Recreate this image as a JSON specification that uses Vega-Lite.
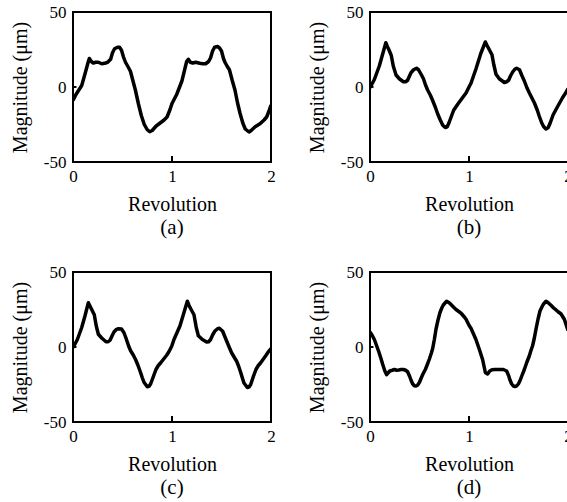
{
  "$schema": "https://vega.github.io/schema/vega-lite/v6.json",
  "background": "white",
  "padding": {"left": 9, "top": 2, "right": 0, "bottom": 0},
  "bounds": "flush",
  "spacing": {"row": 110, "column": 99},
  "columns": 2,
  "datasets": {
    "ticks": [
      {"rev": 1, "rev2": 1, "mag": -50, "mag2": -46},
      {"rev": 0, "rev2": 0.035, "mag": 0, "mag2": 0}
    ],
    "curves": [
      {"p":"a","rev":0,"mag":-9},{"p":"a","rev":0.03,"mag":-5},{"p":"a","rev":0.088,"mag":1},{"p":"a","rev":0.12,"mag":8.5},{"p":"a","rev":0.155,"mag":17},{"p":"a","rev":0.165,"mag":19},{"p":"a","rev":0.185,"mag":17},{"p":"a","rev":0.205,"mag":16},{"p":"a","rev":0.23,"mag":16.5},{"p":"a","rev":0.256,"mag":16.5},{"p":"a","rev":0.29,"mag":15.5},{"p":"a","rev":0.32,"mag":15.8},{"p":"a","rev":0.35,"mag":16.5},{"p":"a","rev":0.38,"mag":18.5},{"p":"a","rev":0.4,"mag":23},{"p":"a","rev":0.42,"mag":25.5},{"p":"a","rev":0.45,"mag":26.5},{"p":"a","rev":0.47,"mag":26.5},{"p":"a","rev":0.49,"mag":24.5},{"p":"a","rev":0.51,"mag":20},{"p":"a","rev":0.53,"mag":16.5},{"p":"a","rev":0.56,"mag":13},{"p":"a","rev":0.58,"mag":10.5},{"p":"a","rev":0.61,"mag":3},{"p":"a","rev":0.63,"mag":-2},{"p":"a","rev":0.66,"mag":-11},{"p":"a","rev":0.69,"mag":-19},{"p":"a","rev":0.72,"mag":-25},{"p":"a","rev":0.75,"mag":-28.5},{"p":"a","rev":0.775,"mag":-29.8},{"p":"a","rev":0.8,"mag":-29},{"p":"a","rev":0.84,"mag":-26},{"p":"a","rev":0.88,"mag":-24},{"p":"a","rev":0.92,"mag":-22},{"p":"a","rev":0.95,"mag":-20},{"p":"a","rev":0.98,"mag":-15},{"p":"a","rev":1.0,"mag":-11},{"p":"a","rev":1.047,"mag":-5},{"p":"a","rev":1.1,"mag":4},{"p":"a","rev":1.148,"mag":17},{"p":"a","rev":1.165,"mag":18.5},{"p":"a","rev":1.185,"mag":16.5},{"p":"a","rev":1.21,"mag":16},{"p":"a","rev":1.24,"mag":16.5},{"p":"a","rev":1.28,"mag":15.8},{"p":"a","rev":1.31,"mag":15.5},{"p":"a","rev":1.34,"mag":15.5},{"p":"a","rev":1.37,"mag":17},{"p":"a","rev":1.39,"mag":19.5},{"p":"a","rev":1.41,"mag":24},{"p":"a","rev":1.43,"mag":26.5},{"p":"a","rev":1.46,"mag":27},{"p":"a","rev":1.48,"mag":26},{"p":"a","rev":1.5,"mag":24},{"p":"a","rev":1.52,"mag":19},{"p":"a","rev":1.535,"mag":16.5},{"p":"a","rev":1.56,"mag":13.5},{"p":"a","rev":1.58,"mag":11.5},{"p":"a","rev":1.61,"mag":4},{"p":"a","rev":1.636,"mag":-2},{"p":"a","rev":1.66,"mag":-10},{"p":"a","rev":1.687,"mag":-17.5},{"p":"a","rev":1.715,"mag":-24},{"p":"a","rev":1.74,"mag":-28},{"p":"a","rev":1.778,"mag":-30},{"p":"a","rev":1.8,"mag":-29},{"p":"a","rev":1.84,"mag":-26.5},{"p":"a","rev":1.889,"mag":-24.5},{"p":"a","rev":1.93,"mag":-22},{"p":"a","rev":1.956,"mag":-20},{"p":"a","rev":1.98,"mag":-16},{"p":"a","rev":2.0,"mag":-12},

      {"p":"b","rev":0,"mag":-0.5},{"p":"b","rev":0.044,"mag":5},{"p":"b","rev":0.094,"mag":14},{"p":"b","rev":0.128,"mag":22},{"p":"b","rev":0.16,"mag":29.5},{"p":"b","rev":0.175,"mag":27},{"p":"b","rev":0.19,"mag":25},{"p":"b","rev":0.215,"mag":21},{"p":"b","rev":0.235,"mag":14},{"p":"b","rev":0.263,"mag":8},{"p":"b","rev":0.296,"mag":5.5},{"p":"b","rev":0.337,"mag":3.5},{"p":"b","rev":0.36,"mag":3.5},{"p":"b","rev":0.38,"mag":4.5},{"p":"b","rev":0.4,"mag":7.5},{"p":"b","rev":0.414,"mag":9.5},{"p":"b","rev":0.44,"mag":11.5},{"p":"b","rev":0.47,"mag":12.5},{"p":"b","rev":0.49,"mag":11.5},{"p":"b","rev":0.52,"mag":8},{"p":"b","rev":0.54,"mag":5.5},{"p":"b","rev":0.56,"mag":1.5},{"p":"b","rev":0.582,"mag":-2},{"p":"b","rev":0.61,"mag":-5.5},{"p":"b","rev":0.633,"mag":-9},{"p":"b","rev":0.66,"mag":-13.5},{"p":"b","rev":0.684,"mag":-18},{"p":"b","rev":0.71,"mag":-22},{"p":"b","rev":0.735,"mag":-25.5},{"p":"b","rev":0.76,"mag":-27},{"p":"b","rev":0.78,"mag":-26.5},{"p":"b","rev":0.8,"mag":-23.5},{"p":"b","rev":0.825,"mag":-19},{"p":"b","rev":0.845,"mag":-15.5},{"p":"b","rev":0.886,"mag":-11.5},{"p":"b","rev":0.936,"mag":-7},{"p":"b","rev":0.97,"mag":-4},{"p":"b","rev":1.0,"mag":0},{"p":"b","rev":1.02,"mag":2.5},{"p":"b","rev":1.07,"mag":12},{"p":"b","rev":1.12,"mag":22.5},{"p":"b","rev":1.165,"mag":30},{"p":"b","rev":1.18,"mag":28},{"p":"b","rev":1.2,"mag":25.5},{"p":"b","rev":1.232,"mag":21.5},{"p":"b","rev":1.25,"mag":15},{"p":"b","rev":1.273,"mag":8.5},{"p":"b","rev":1.306,"mag":5.5},{"p":"b","rev":1.357,"mag":3},{"p":"b","rev":1.38,"mag":3.5},{"p":"b","rev":1.4,"mag":4.5},{"p":"b","rev":1.42,"mag":7.5},{"p":"b","rev":1.441,"mag":10},{"p":"b","rev":1.465,"mag":12},{"p":"b","rev":1.481,"mag":12.5},{"p":"b","rev":1.51,"mag":11.5},{"p":"b","rev":1.535,"mag":7.5},{"p":"b","rev":1.559,"mag":4},{"p":"b","rev":1.585,"mag":-0.5},{"p":"b","rev":1.61,"mag":-4},{"p":"b","rev":1.66,"mag":-10.5},{"p":"b","rev":1.69,"mag":-15.5},{"p":"b","rev":1.71,"mag":-19.5},{"p":"b","rev":1.735,"mag":-24},{"p":"b","rev":1.755,"mag":-26.5},{"p":"b","rev":1.778,"mag":-28},{"p":"b","rev":1.8,"mag":-27},{"p":"b","rev":1.82,"mag":-24},{"p":"b","rev":1.85,"mag":-18.5},{"p":"b","rev":1.895,"mag":-13},{"p":"b","rev":1.946,"mag":-7},{"p":"b","rev":1.976,"mag":-4},{"p":"b","rev":2.0,"mag":-1},

      {"p":"c","rev":0,"mag":-0.5},{"p":"c","rev":0.044,"mag":5},{"p":"c","rev":0.088,"mag":13},{"p":"c","rev":0.12,"mag":20.5},{"p":"c","rev":0.155,"mag":29.5},{"p":"c","rev":0.17,"mag":27.5},{"p":"c","rev":0.185,"mag":25.5},{"p":"c","rev":0.215,"mag":21.5},{"p":"c","rev":0.235,"mag":14},{"p":"c","rev":0.256,"mag":8.5},{"p":"c","rev":0.29,"mag":6},{"p":"c","rev":0.333,"mag":3.5},{"p":"c","rev":0.355,"mag":3.5},{"p":"c","rev":0.374,"mag":4.5},{"p":"c","rev":0.395,"mag":7.5},{"p":"c","rev":0.414,"mag":10},{"p":"c","rev":0.44,"mag":11.8},{"p":"c","rev":0.458,"mag":12.2},{"p":"c","rev":0.49,"mag":12},{"p":"c","rev":0.515,"mag":9.5},{"p":"c","rev":0.535,"mag":6},{"p":"c","rev":0.56,"mag":1},{"p":"c","rev":0.582,"mag":-2.5},{"p":"c","rev":0.61,"mag":-5.5},{"p":"c","rev":0.633,"mag":-8.5},{"p":"c","rev":0.655,"mag":-12},{"p":"c","rev":0.677,"mag":-16},{"p":"c","rev":0.7,"mag":-20.5},{"p":"c","rev":0.717,"mag":-23.5},{"p":"c","rev":0.75,"mag":-26.5},{"p":"c","rev":0.77,"mag":-26},{"p":"c","rev":0.785,"mag":-24.5},{"p":"c","rev":0.81,"mag":-20},{"p":"c","rev":0.838,"mag":-15},{"p":"c","rev":0.86,"mag":-12.5},{"p":"c","rev":0.886,"mag":-10.5},{"p":"c","rev":0.946,"mag":-5.5},{"p":"c","rev":0.97,"mag":-3},{"p":"c","rev":0.997,"mag":0.5},{"p":"c","rev":1.02,"mag":5},{"p":"c","rev":1.08,"mag":14},{"p":"c","rev":1.121,"mag":23},{"p":"c","rev":1.155,"mag":30.5},{"p":"c","rev":1.17,"mag":28},{"p":"c","rev":1.189,"mag":25.5},{"p":"c","rev":1.222,"mag":21.5},{"p":"c","rev":1.245,"mag":13},{"p":"c","rev":1.266,"mag":7.5},{"p":"c","rev":1.307,"mag":5},{"p":"c","rev":1.35,"mag":3.3},{"p":"c","rev":1.37,"mag":3.5},{"p":"c","rev":1.39,"mag":5},{"p":"c","rev":1.41,"mag":8},{"p":"c","rev":1.434,"mag":10.7},{"p":"c","rev":1.46,"mag":12.2},{"p":"c","rev":1.478,"mag":12.5},{"p":"c","rev":1.512,"mag":10.5},{"p":"c","rev":1.53,"mag":7.5},{"p":"c","rev":1.552,"mag":4},{"p":"c","rev":1.58,"mag":-0.5},{"p":"c","rev":1.603,"mag":-4},{"p":"c","rev":1.653,"mag":-9.5},{"p":"c","rev":1.674,"mag":-13},{"p":"c","rev":1.694,"mag":-17},{"p":"c","rev":1.71,"mag":-20.5},{"p":"c","rev":1.727,"mag":-24},{"p":"c","rev":1.761,"mag":-27},{"p":"c","rev":1.78,"mag":-26.5},{"p":"c","rev":1.795,"mag":-25},{"p":"c","rev":1.82,"mag":-20},{"p":"c","rev":1.848,"mag":-15},{"p":"c","rev":1.87,"mag":-12.5},{"p":"c","rev":1.896,"mag":-10.5},{"p":"c","rev":1.95,"mag":-5.5},{"p":"c","rev":1.975,"mag":-3},{"p":"c","rev":2.0,"mag":-1},

      {"p":"d","rev":0,"mag":10},{"p":"d","rev":0.02,"mag":8},{"p":"d","rev":0.044,"mag":5},{"p":"d","rev":0.066,"mag":1},{"p":"d","rev":0.088,"mag":-3},{"p":"d","rev":0.11,"mag":-7.5},{"p":"d","rev":0.128,"mag":-11.5},{"p":"d","rev":0.15,"mag":-16},{"p":"d","rev":0.168,"mag":-18.5},{"p":"d","rev":0.18,"mag":-17.5},{"p":"d","rev":0.2,"mag":-16},{"p":"d","rev":0.225,"mag":-15.5},{"p":"d","rev":0.246,"mag":-15},{"p":"d","rev":0.27,"mag":-15.5},{"p":"d","rev":0.29,"mag":-15.3},{"p":"d","rev":0.315,"mag":-15},{"p":"d","rev":0.337,"mag":-15},{"p":"d","rev":0.36,"mag":-15.5},{"p":"d","rev":0.38,"mag":-16.5},{"p":"d","rev":0.4,"mag":-19.5},{"p":"d","rev":0.414,"mag":-22},{"p":"d","rev":0.43,"mag":-24.5},{"p":"d","rev":0.448,"mag":-25.8},{"p":"d","rev":0.465,"mag":-26},{"p":"d","rev":0.48,"mag":-25.5},{"p":"d","rev":0.5,"mag":-23.5},{"p":"d","rev":0.515,"mag":-21},{"p":"d","rev":0.535,"mag":-18},{"p":"d","rev":0.559,"mag":-15},{"p":"d","rev":0.58,"mag":-11.5},{"p":"d","rev":0.6,"mag":-8},{"p":"d","rev":0.62,"mag":-4},{"p":"d","rev":0.633,"mag":-1},{"p":"d","rev":0.65,"mag":5},{"p":"d","rev":0.667,"mag":12},{"p":"d","rev":0.687,"mag":18},{"p":"d","rev":0.707,"mag":23},{"p":"d","rev":0.725,"mag":26},{"p":"d","rev":0.74,"mag":28},{"p":"d","rev":0.76,"mag":29.5},{"p":"d","rev":0.774,"mag":30.5},{"p":"d","rev":0.8,"mag":29.5},{"p":"d","rev":0.818,"mag":28.3},{"p":"d","rev":0.845,"mag":26.5},{"p":"d","rev":0.869,"mag":25},{"p":"d","rev":0.9,"mag":23.5},{"p":"d","rev":0.92,"mag":22.5},{"p":"d","rev":0.953,"mag":20},{"p":"d","rev":0.97,"mag":18.5},{"p":"d","rev":1.0,"mag":14.5},{"p":"d","rev":1.02,"mag":12.5},{"p":"d","rev":1.07,"mag":5},{"p":"d","rev":1.104,"mag":-1.5},{"p":"d","rev":1.138,"mag":-8.5},{"p":"d","rev":1.165,"mag":-17},{"p":"d","rev":1.188,"mag":-18},{"p":"d","rev":1.21,"mag":-16},{"p":"d","rev":1.232,"mag":-15.2},{"p":"d","rev":1.26,"mag":-15},{"p":"d","rev":1.29,"mag":-15},{"p":"d","rev":1.32,"mag":-15},{"p":"d","rev":1.347,"mag":-15},{"p":"d","rev":1.38,"mag":-16},{"p":"d","rev":1.4,"mag":-19},{"p":"d","rev":1.414,"mag":-22},{"p":"d","rev":1.43,"mag":-24.5},{"p":"d","rev":1.448,"mag":-26},{"p":"d","rev":1.465,"mag":-26.3},{"p":"d","rev":1.481,"mag":-26},{"p":"d","rev":1.5,"mag":-24.5},{"p":"d","rev":1.515,"mag":-22.5},{"p":"d","rev":1.535,"mag":-19},{"p":"d","rev":1.559,"mag":-15},{"p":"d","rev":1.585,"mag":-10},{"p":"d","rev":1.609,"mag":-6},{"p":"d","rev":1.625,"mag":-2.5},{"p":"d","rev":1.643,"mag":1},{"p":"d","rev":1.66,"mag":6},{"p":"d","rev":1.677,"mag":12},{"p":"d","rev":1.697,"mag":18.5},{"p":"d","rev":1.717,"mag":24},{"p":"d","rev":1.735,"mag":26.5},{"p":"d","rev":1.751,"mag":28.5},{"p":"d","rev":1.778,"mag":30.5},{"p":"d","rev":1.8,"mag":29.5},{"p":"d","rev":1.828,"mag":27.8},{"p":"d","rev":1.855,"mag":26},{"p":"d","rev":1.879,"mag":24.7},{"p":"d","rev":1.9,"mag":23.5},{"p":"d","rev":1.93,"mag":22},{"p":"d","rev":1.963,"mag":18.5},{"p":"d","rev":1.985,"mag":14},{"p":"d","rev":2.0,"mag":11}
    ]
  },
  "concat": [
    {
      "width": 198, "height": 150,
      "title": {"text": "(a)", "orient": "bottom"},
      "layer": [
        {
          "data": {"name": "curves"},
          "transform": [{"filter": "datum.p === 'a'"}],
          "mark": {"type": "line", "color": "black", "strokeWidth": 3.5, "strokeJoin": "round", "clip": true},
          "encoding": {
            "x": {"field": "rev", "type": "quantitative", "scale": {"domain": [0, 2], "nice": false, "zero": false}, "axis": {"title": "Revolution", "values": [0, 1, 2]}},
            "y": {"field": "mag", "type": "quantitative", "scale": {"domain": [-50, 50], "nice": false}, "axis": {"title": "Magnitude (μm)", "values": [-50, 0, 50]}}
          }
        },
        {
          "data": {"name": "ticks"},
          "mark": {"type": "rule", "color": "black", "strokeWidth": 2},
          "encoding": {
            "x": {"field": "rev", "type": "quantitative", "scale": {"domain": [0, 2], "nice": false, "zero": false}, "axis": {"title": "Revolution", "values": [0, 1, 2]}},
            "x2": {"field": "rev2"},
            "y": {"field": "mag", "type": "quantitative", "scale": {"domain": [-50, 50], "nice": false}, "axis": {"title": "Magnitude (μm)", "values": [-50, 0, 50]}},
            "y2": {"field": "mag2"}
          }
        }
      ]
    },
    {
      "width": 198, "height": 150,
      "title": {"text": "(b)", "orient": "bottom"},
      "layer": [
        {
          "data": {"name": "curves"},
          "transform": [{"filter": "datum.p === 'b'"}],
          "mark": {"type": "line", "color": "black", "strokeWidth": 3.5, "strokeJoin": "round", "clip": true},
          "encoding": {
            "x": {"field": "rev", "type": "quantitative", "scale": {"domain": [0, 2], "nice": false, "zero": false}, "axis": {"title": "Revolution", "values": [0, 1, 2]}},
            "y": {"field": "mag", "type": "quantitative", "scale": {"domain": [-50, 50], "nice": false}, "axis": {"title": "Magnitude (μm)", "values": [-50, 0, 50]}}
          }
        },
        {
          "data": {"name": "ticks"},
          "mark": {"type": "rule", "color": "black", "strokeWidth": 2},
          "encoding": {
            "x": {"field": "rev", "type": "quantitative", "scale": {"domain": [0, 2], "nice": false, "zero": false}, "axis": {"title": "Revolution", "values": [0, 1, 2]}},
            "x2": {"field": "rev2"},
            "y": {"field": "mag", "type": "quantitative", "scale": {"domain": [-50, 50], "nice": false}, "axis": {"title": "Magnitude (μm)", "values": [-50, 0, 50]}},
            "y2": {"field": "mag2"}
          }
        }
      ]
    },
    {
      "width": 198, "height": 150,
      "title": {"text": "(c)", "orient": "bottom"},
      "layer": [
        {
          "data": {"name": "curves"},
          "transform": [{"filter": "datum.p === 'c'"}],
          "mark": {"type": "line", "color": "black", "strokeWidth": 3.5, "strokeJoin": "round", "clip": true},
          "encoding": {
            "x": {"field": "rev", "type": "quantitative", "scale": {"domain": [0, 2], "nice": false, "zero": false}, "axis": {"title": "Revolution", "values": [0, 1, 2]}},
            "y": {"field": "mag", "type": "quantitative", "scale": {"domain": [-50, 50], "nice": false}, "axis": {"title": "Magnitude (μm)", "values": [-50, 0, 50]}}
          }
        },
        {
          "data": {"name": "ticks"},
          "mark": {"type": "rule", "color": "black", "strokeWidth": 2},
          "encoding": {
            "x": {"field": "rev", "type": "quantitative", "scale": {"domain": [0, 2], "nice": false, "zero": false}, "axis": {"title": "Revolution", "values": [0, 1, 2]}},
            "x2": {"field": "rev2"},
            "y": {"field": "mag", "type": "quantitative", "scale": {"domain": [-50, 50], "nice": false}, "axis": {"title": "Magnitude (μm)", "values": [-50, 0, 50]}},
            "y2": {"field": "mag2"}
          }
        }
      ]
    },
    {
      "width": 198, "height": 150,
      "title": {"text": "(d)", "orient": "bottom"},
      "layer": [
        {
          "data": {"name": "curves"},
          "transform": [{"filter": "datum.p === 'd'"}],
          "mark": {"type": "line", "color": "black", "strokeWidth": 3.5, "strokeJoin": "round", "clip": true},
          "encoding": {
            "x": {"field": "rev", "type": "quantitative", "scale": {"domain": [0, 2], "nice": false, "zero": false}, "axis": {"title": "Revolution", "values": [0, 1, 2]}},
            "y": {"field": "mag", "type": "quantitative", "scale": {"domain": [-50, 50], "nice": false}, "axis": {"title": "Magnitude (μm)", "values": [-50, 0, 50]}}
          }
        },
        {
          "data": {"name": "ticks"},
          "mark": {"type": "rule", "color": "black", "strokeWidth": 2},
          "encoding": {
            "x": {"field": "rev", "type": "quantitative", "scale": {"domain": [0, 2], "nice": false, "zero": false}, "axis": {"title": "Revolution", "values": [0, 1, 2]}},
            "x2": {"field": "rev2"},
            "y": {"field": "mag", "type": "quantitative", "scale": {"domain": [-50, 50], "nice": false}, "axis": {"title": "Magnitude (μm)", "values": [-50, 0, 50]}},
            "y2": {"field": "mag2"}
          }
        }
      ]
    }
  ],
  "config": {
    "font": "Liberation Serif",
    "view": {"stroke": "black", "strokeWidth": 2},
    "axis": {
      "grid": false,
      "domain": false,
      "ticks": false,
      "labelExpr": "datum.value + ''",
      "labelFont": "Liberation Serif",
      "labelFontSize": 17,
      "labelColor": "black",
      "titleFont": "Liberation Serif",
      "titleFontSize": 20,
      "titleFontWeight": "normal",
      "titleColor": "black"
    },
    "axisX": {"labelPadding": 6, "labelFlush": false, "titlePadding": 10},
    "axisY": {"labelPadding": 7, "titlePadding": 13},
    "title": {"font": "Liberation Serif", "fontSize": 21, "fontWeight": "normal", "color": "black", "offset": 3}
  }
}
